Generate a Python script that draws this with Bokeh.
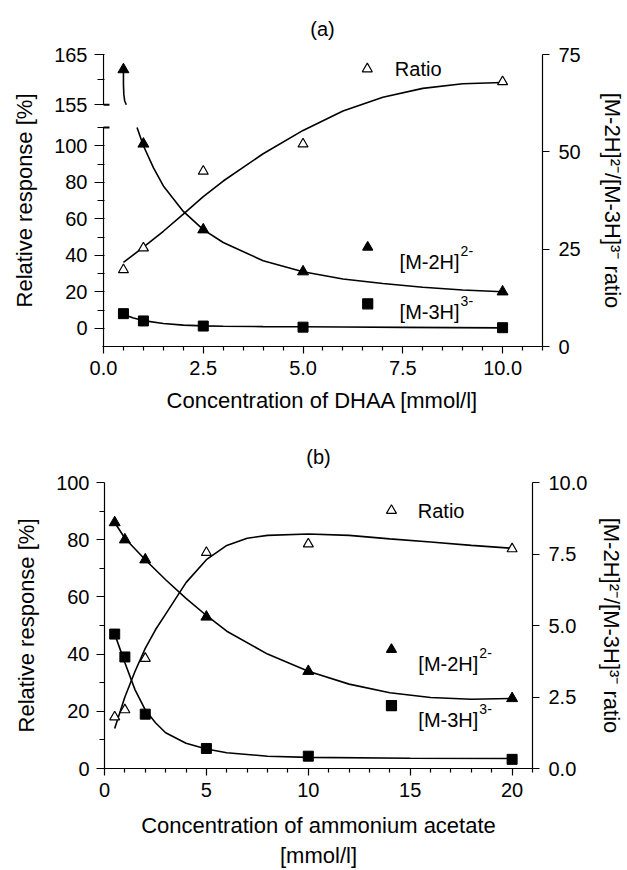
from bokeh.plotting import figure
from bokeh.models import Range1d, LinearAxis, FixedTicker, PrintfTickFormatter
from bokeh.embed import file_html
from bokeh.resources import INLINE
from bokeh.core.properties import value

FONT = "Liberation Sans"
TICK_FS = "20px"
LABEL_FS = "22px"
LEG_FS = "20px"
SUP_FS = "14px"

# ---------------- panel (a): DHAA ----------------
a_conc = [0.5, 1.0, 2.5, 5.0, 10.0]
a_m2h = [162, 101, 54, 31, 20]          # relative response [%]
a_m3h = [8, 4, 1.2, 0.6, 0.3]           # relative response [%]
a_ratio = [19.7, 25.3, 45, 52, 68]      # [M-2H]2-/[M-3H]3- ratio (right axis)

# fitted curves
a_fit_m2h_top_x = [0.5, 0.5, 0.51, 0.53, 0.57]
a_fit_m2h_top_y = [162, 159, 157, 155.8, 155]
a_fit_m2h_x = [0.84, 1.0, 1.25, 1.5, 2.0, 2.5, 3.0, 4.0, 5.0, 6.0, 7.0, 8.0, 9.0, 10.0]
a_fit_m2h_y = [110, 100, 88, 78, 64, 54, 47, 37, 31, 27, 24.5, 22.5, 21, 20]
a_fit_m3h_x = [0.5, 0.75, 1.0, 1.5, 2.0, 2.5, 3.0, 4.0, 5.0, 6.0, 7.5, 10.0]
a_fit_m3h_y = [7.5, 5.6, 4.2, 2.6, 1.7, 1.3, 1.1, 0.9, 0.8, 0.7, 0.5, 0.2]
a_fit_ratio_x = [0.5, 1.0, 1.5, 2.0, 2.5, 3.0, 4.0, 5.0, 6.0, 7.0, 8.0, 9.0, 10.0]
a_fit_ratio_y = [21.6, 25.5, 29.6, 34, 38.5, 42.5, 49.5, 55.5, 60.5, 64, 66.3, 67.5, 67.8]

a_xticks = [0, 2.5, 5, 7.5, 10]
a_xminor = [0.5, 1, 1.5, 2, 3, 3.5, 4, 4.5, 5.5, 6, 6.5, 7, 8, 8.5, 9, 9.5, 10.5, 11]
a_yticks = [0, 20, 40, 60, 80, 100]
a_yminor = [10, 30, 50, 70, 90]
a_ytop_labels = ["155", "165"]
a_rticks = [0, 25, 50, 75]

# ---------------- panel (b): ammonium acetate ----------------
b_conc = [0.5, 1, 2, 5, 10, 20]
b_m2h = [86, 80, 73, 53, 34, 24.5]
b_m3h = [47, 39, 19, 7, 4.3, 3.2]
b_ratio = [1.8, 2.05, 3.85, 7.55, 7.85, 7.68]

b_fit_m2h_x = [0.5, 1, 2, 3, 4, 5, 6, 8, 10, 12, 14, 16, 18, 20]
b_fit_m2h_y = [86, 80.5, 73, 66, 59.5, 53.5, 48, 40, 34, 29.5, 26.5, 24.8, 24.2, 24.5]
b_fit_m3h_x = [0.5, 0.75, 1, 1.5, 2, 2.5, 3, 4, 5, 6, 8, 10, 15, 20]
b_fit_m3h_y = [47, 42, 37, 27.5, 20.5, 16, 12.5, 8.8, 6.8, 5.5, 4.3, 3.9, 3.6, 3.5]
b_fit_ratio_x = [0.5, 1, 1.5, 2, 2.5, 3, 4, 5, 6, 7, 8, 10, 12, 14, 16, 18, 20]
b_fit_ratio_y = [1.4, 2.5, 3.4, 4.2, 4.85, 5.4, 6.5, 7.3, 7.8, 8.05, 8.15, 8.2, 8.15, 8.03, 7.92, 7.8, 7.7]

b_xticks = [0, 5, 10, 15, 20]
b_xminor = [1, 2, 3, 4, 6, 7, 8, 9, 11, 12, 13, 14, 16, 17, 18, 19, 21]
b_yticks = [0, 20, 40, 60, 80, 100]
b_yminor = [10, 30, 50, 70, 90]
b_rticks = [0, 2.5, 5, 7.5, 10]

RIGHT_LABEL = "[M-2H]\u00b2\u207b/[M-3H]\u00b3\u207b ratio"

# broken left axis of (a): lower segment -10..110 and upper segment 155..165,
# both drawn on one "lower" scale; 155 sits at BRK_LOW and 165 at LOW_END
LOW_START, LOW_END = -10, 150
LOW_BREAK = 110
BRK_LOW = 122.5
UP_PER_LOW = 10 / (LOW_END - BRK_LOW)
UP_START = 155 - (BRK_LOW - LOW_START) * UP_PER_LOW
UP_MINOR = (BRK_LOW + LOW_END) / 2
X_EPS = 0.025              # keeps the drawn axis line of (a) just inside the frame


def style_axis(ax, major_out=7, minor_out=4, label_standoff=7, axis_label_standoff=6, tick_in=0):
    ax.axis_line_color = "black"
    ax.axis_line_width = 1.2
    ax.major_tick_in = tick_in
    ax.major_tick_out = major_out
    ax.minor_tick_in = tick_in
    ax.minor_tick_out = minor_out
    ax.major_tick_line_color = "black"
    ax.minor_tick_line_color = "black"
    ax.major_tick_line_width = 1.2
    ax.minor_tick_line_width = 1.2
    ax.major_label_text_font = FONT
    ax.major_label_text_font_size = TICK_FS
    ax.major_label_text_color = "black"
    ax.major_label_standoff = label_standoff
    ax.axis_label_text_font = FONT
    ax.axis_label_text_font_size = LABEL_FS
    ax.axis_label_text_font_style = "normal"
    ax.axis_label_text_color = "black"
    ax.axis_label_standoff = axis_label_standoff
    return ax


def base_fig(title, h, xr, yr, extra, borders, title_standoff):
    p = figure(width=627, height=h, x_range=xr, y_range=yr, extra_y_ranges=extra,
               x_axis_location=None, y_axis_location=None, title=title,
               output_backend="svg", toolbar_location=None,
               min_border_left=borders[0], min_border_right=borders[1],
               min_border_top=borders[2], min_border_bottom=borders[3])
    p.outline_line_color = None
    p.grid.visible = False
    p.title.align = "center"
    p.title.text_font = FONT
    p.title.text_font_size = "20px"
    p.title.text_font_style = "normal"
    p.title.text_color = "black"
    p.title.standoff = title_standoff
    return p


def legend_entry(p, x, y, tx, ty, marker, main, sup, fill, y_name="default"):
    p.scatter([x], [y], marker=marker, size=10, fill_color=fill, line_color="black",
              line_width=1.2, y_range_name=y_name)
    p.text([tx], [ty], text=[main], text_font=value(FONT), text_font_size=LEG_FS,
           text_baseline="middle", text_align="left", text_color="black", y_range_name=y_name)
    if sup:
        p.text([tx], [ty], text=[sup], text_font=value(FONT), text_font_size=SUP_FS,
               text_baseline="middle", text_align="left", text_color="black",
               x_offset=61, y_offset=-11, y_range_name=y_name)


# ================= figure (a) =================
pa = base_fig("(a)", 420, Range1d(-X_EPS, 11), Range1d(LOW_START, LOW_END),
              {"ratio": Range1d(0, 75), "upper": Range1d(UP_START, 165)},
              (102, 84, 54, 74), 29)

xa = LinearAxis(ticker=FixedTicker(ticks=a_xticks, minor_ticks=a_xminor),
                formatter=PrintfTickFormatter(format="%.1f"),
                axis_label="Concentration of DHAA [mmol/l]")
style_axis(xa, label_standoff=7, axis_label_standoff=10)
pa.add_layout(xa, "below")

la = LinearAxis(ticker=FixedTicker(ticks=a_yticks + [BRK_LOW, LOW_END],
                                   minor_ticks=a_yminor + [LOW_BREAK, UP_MINOR]),
                formatter=PrintfTickFormatter(format="%d"),
                axis_label="Relative response [%]",
                major_label_overrides={BRK_LOW: a_ytop_labels[0], LOW_END: a_ytop_labels[1]})
style_axis(la, major_out=8, minor_out=5, axis_label_standoff=14, tick_in=2)
la.axis_line_color = None
pa.add_layout(la, "left")

ra = LinearAxis(y_range_name="ratio", ticker=FixedTicker(ticks=a_rticks, minor_ticks=[]),
                formatter=PrintfTickFormatter(format="%d"), axis_label=RIGHT_LABEL)
style_axis(ra, label_standoff=9, axis_label_standoff=16)
pa.add_layout(ra, "right")

# broken axis line with its break marks
pa.segment(x0=[0, 0], y0=[LOW_START, BRK_LOW], x1=[0, 0], y1=[LOW_BREAK, LOW_END],
           line_color="black", line_width=1.2)
pa.segment(x0=[0, 0], y0=[LOW_BREAK, BRK_LOW], x1=[0.15, 0.15], y1=[LOW_BREAK, BRK_LOW],
           line_color="black", line_width=2)

LW = 1.6
pa.line(a_fit_ratio_x, a_fit_ratio_y, y_range_name="ratio", line_color="black", line_width=LW)
pa.line(a_fit_m2h_x, a_fit_m2h_y, line_color="black", line_width=LW)
pa.line(a_fit_m2h_top_x, a_fit_m2h_top_y, y_range_name="upper", line_color="black", line_width=LW)
pa.line(a_fit_m3h_x, a_fit_m3h_y, line_color="black", line_width=LW)

pa.scatter(a_conc, a_ratio, y_range_name="ratio", marker="triangle", size=10,
           fill_color="white", line_color="black", line_width=1.2)
pa.scatter(a_conc[1:], a_m2h[1:], marker="triangle", size=11, color="black")
pa.scatter(a_conc[:1], a_m2h[:1], y_range_name="upper", marker="triangle", size=11, color="black")
pa.scatter(a_conc, a_m3h, marker="square", size=10, color="black")

legend_entry(pa, 6.61, 71.3, 7.3, 71.3, "triangle", "Ratio", None, "white", "ratio")
legend_entry(pa, 6.62, 44.4, 7.42, 36.2, "triangle", "[M-2H]", "2-", "black")
legend_entry(pa, 6.62, 13.4, 7.42, 8.8, "square", "[M-3H]", "3-", "black")

# ================= figure (b) =================
pb = base_fig("(b)", 450, Range1d(0, 21), Range1d(0, 100), {"ratio": Range1d(0, 10)},
              (104, 94, 62, 100), 29)

xb = LinearAxis(ticker=FixedTicker(ticks=b_xticks, minor_ticks=b_xminor),
                formatter=PrintfTickFormatter(format="%d"),
                axis_label="Concentration of ammonium acetate\n[mmol/l]")
style_axis(xb, label_standoff=7, axis_label_standoff=13)
pb.add_layout(xb, "below")

lb = LinearAxis(ticker=FixedTicker(ticks=b_yticks, minor_ticks=b_yminor),
                formatter=PrintfTickFormatter(format="%d"), axis_label="Relative response [%]")
style_axis(lb, major_out=8, minor_out=5, axis_label_standoff=14)
pb.add_layout(lb, "left")

rb = LinearAxis(y_range_name="ratio", ticker=FixedTicker(ticks=b_rticks, minor_ticks=[]),
                formatter=PrintfTickFormatter(format="%.1f"), axis_label=RIGHT_LABEL)
style_axis(rb, label_standoff=9, axis_label_standoff=9)
pb.add_layout(rb, "right")

pb.line(b_fit_ratio_x, b_fit_ratio_y, y_range_name="ratio", line_color="black", line_width=LW)
pb.line(b_fit_m2h_x, b_fit_m2h_y, line_color="black", line_width=LW)
pb.line(b_fit_m3h_x, b_fit_m3h_y, line_color="black", line_width=LW)

pb.scatter(b_conc, b_ratio, y_range_name="ratio", marker="triangle", size=10,
           fill_color="white", line_color="black", line_width=1.2)
pb.scatter(b_conc, b_m2h, marker="triangle", size=11, color="black")
pb.scatter(b_conc, b_m3h, marker="square", size=10, color="black")

legend_entry(pb, 14.08, 9.02, 15.37, 9.02, "triangle", "Ratio", None, "white", "ratio")
legend_entry(pb, 14.08, 41.6, 15.4, 36.4, "triangle", "[M-2H]", "2-", "black")
legend_entry(pb, 14.08, 22.0, 15.4, 16.8, "square", "[M-3H]", "3-", "black")

open("out.html", "w").write(file_html([pa, pb], INLINE))
